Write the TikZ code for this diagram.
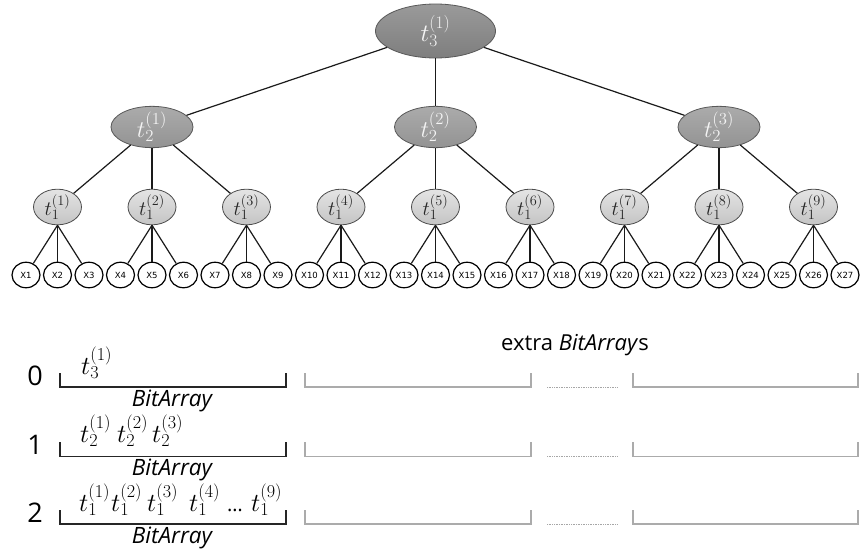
\documentclass[tikz,border=0pt]{standalone}
\usepackage{fix-cm}
\usepackage[no-math]{fontspec}
\setmainfont{Open Sans}
\newfontfamily\leaffont{DejaVu Sans}
\usetikzlibrary{shapes.geometric}
\definecolor{edgecol}{HTML}{1A1A1A}
\definecolor{rootTop}{HTML}{9A9A9A}
\definecolor{rootBot}{HTML}{7E7E7E}
\definecolor{midTop}{HTML}{ABABAB}
\definecolor{midBot}{HTML}{939393}
\definecolor{lowTop}{HTML}{E4E4E4}
\definecolor{lowBot}{HTML}{C4C4C4}
\definecolor{lighttext}{HTML}{F4F4F4}
\definecolor{greyline}{HTML}{ABABAB}
\begin{document}
\begin{tikzpicture}[x=1pt,y=-1pt,
  edge/.style={draw=edgecol,line width=1.2pt},
  rootnode/.style={ellipse,draw=black!65,line width=0.8pt,minimum width=120pt,minimum height=54pt,inner sep=0pt,top color=rootTop,bottom color=rootBot,text=lighttext,font=\fontsize{25}{25}\selectfont},
  midnode/.style={ellipse,draw=black!65,line width=0.8pt,minimum width=82pt,minimum height=40pt,inner sep=0pt,top color=midTop,bottom color=midBot,text=lighttext,font=\fontsize{24}{24}\selectfont},
  lownode/.style={ellipse,draw=black!70,line width=0.8pt,minimum width=48pt,minimum height=26pt,inner sep=0pt,top color=lowTop,bottom color=lowBot,text=black!85,font=\fontsize{20.5}{20.5}\selectfont},
  leafnode/.style={ellipse,draw=black,line width=1.2pt,fill=white,minimum width=28pt,minimum height=25.5pt,inner sep=0pt,font=\leaffont\fontsize{8.5}{8.5}\selectfont},
  digitlabel/.style={anchor=base,inner sep=0pt,font=\fontsize{27}{27}\selectfont},
  arraylabel/.style={anchor=base,inner sep=0pt,font=\fontsize{22.5}{22.5}\selectfont\itshape},
  termlabel/.style={anchor=base west,inner sep=0pt,font=\fontsize{26}{26}\selectfont},
  blackbracket/.style={draw=black!85,line width=1.2pt},
  greybracket/.style={draw=greyline,line width=1.5pt},
  dotrule/.style={draw=black!35,line width=0.9pt,dash pattern=on 0.8pt off 0.9pt}
]
\path (0,0) rectangle (865,549);

% tree
\node[rootnode] (r) at (435.5,31) {$t_3^{(1)}$};
\foreach \i/\x in {1/152,2/435.5,3/719}
  \node[midnode] (m\i) at (\x,127) {$t_2^{(\i)}$};
\foreach \j in {1,...,9}{
  \pgfmathsetmacro\xx{57.5+(\j-1)*94.5}
  \node[lownode] (l\j) at (\xx,207) {$t_1^{(\j)}$};
}
\foreach \k in {1,...,27}{
  \pgfmathsetmacro\xx{26+(\k-1)*31.5}
  \node[leafnode] (x\k) at (\xx,275) {X\k};
}
\foreach \i in {1,2,3}
  \draw[edge] (r) -- (m\i);
\foreach \j in {1,...,9}{
  \pgfmathtruncatemacro\p{(\j+2)/3}
  \draw[edge] (m\p) -- (l\j);
}
\foreach \k in {1,...,27}{
  \pgfmathtruncatemacro\p{(\k+2)/3}
  \draw[edge] (l\p.south) -- (x\k);
}

% bit arrays
\node[anchor=base,inner sep=0pt,font=\fontsize{22}{22}\selectfont] (extra) at (575,350) {extra \textit{BitArray}s};

\foreach \row/\top/\bot/\dig/\lab in {0/373/387/385/406,1/442/456.5/454/475,2/510/524/522/543}{
  \node[digitlabel] (d\row) at (35,\dig) {\row};
  \node[arraylabel] (b\row) at (172,\lab) {BitArray};
  \draw[blackbracket] (60,\top) -- (60,\bot) -- (286,\bot) -- (286,\top);
  \draw[greybracket] (305,\top) -- (305,\bot) -- (531,\bot) -- (531,\top);
  \draw[greybracket] (633,\top) -- (633,\bot) -- (858,\bot) -- (858,\top);
  \draw[dotrule] (547,\bot) -- (618,\bot);
}

% contents above the black brackets
\node[termlabel] (s0a) at (81,374) {$t_3^{(1)}$};
\node[termlabel] (s1a) at (80,442) {$t_2^{(1)}$};
\node[termlabel] (s1b) at (117,442) {$t_2^{(2)}$};
\node[termlabel] (s1c) at (152,442) {$t_2^{(3)}$};
\node[termlabel] (s2a) at (79,511) {$t_1^{(1)}$};
\node[termlabel] (s2b) at (111,511) {$t_1^{(2)}$};
\node[termlabel] (s2c) at (147,511) {$t_1^{(3)}$};
\node[termlabel] (s2d) at (189,511) {$t_1^{(4)}$};
\node[termlabel] (s2e) at (227,511) {\fontsize{20}{20}\selectfont\ldots};
\node[termlabel] (s2f) at (251,511) {$t_1^{(9)}$};
\end{tikzpicture}
\end{document}
